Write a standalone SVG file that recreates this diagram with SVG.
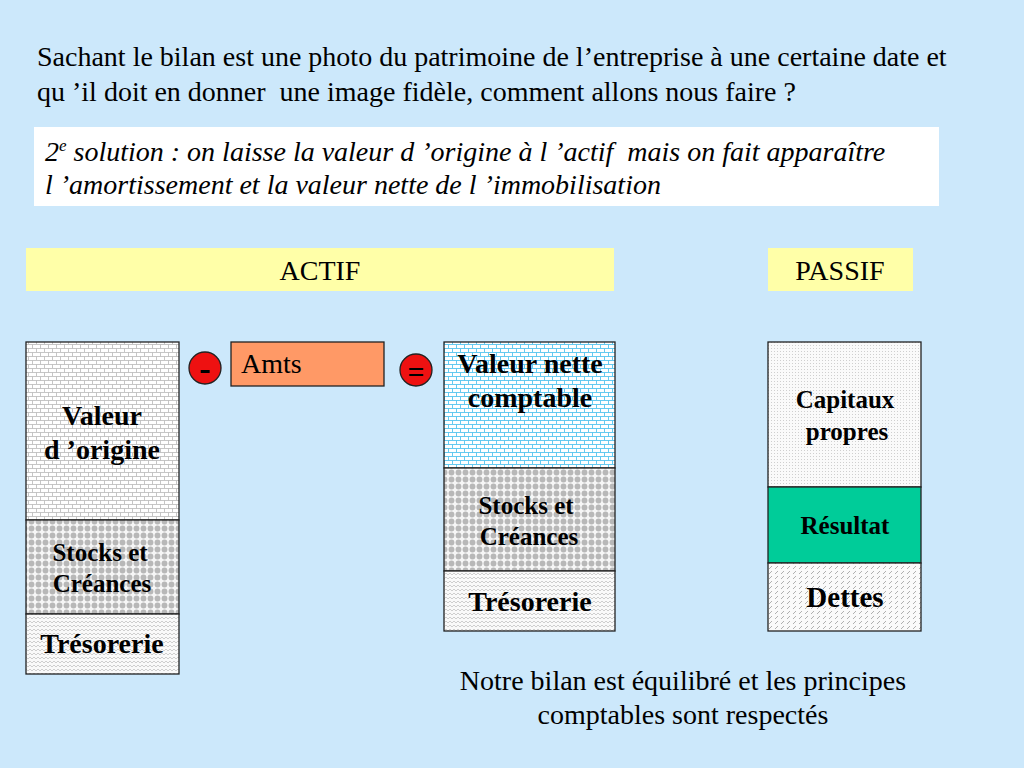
<svg xmlns="http://www.w3.org/2000/svg" width="1024" height="768" viewBox="0 0 1024 768">
<defs>
<pattern id="brick" width="8" height="8" patternUnits="userSpaceOnUse">
<rect width="8" height="8" fill="#fff"/>
<path d="M0 0.5H8M0 4.5H8M0.5 0.5V4.5M4.5 4.5V8.5" stroke="#b8b8b8" stroke-width="0.8" fill="none"/>
</pattern>
<pattern id="brickBlue" width="8" height="8" patternUnits="userSpaceOnUse">
<rect width="8" height="8" fill="#fff"/>
<path d="M0 0.5H8M0 4.5H8M0.5 0.5V4.5M4.5 4.5V8.5" stroke="#55c4ee" stroke-width="0.9" fill="none"/>
</pattern>
<pattern id="dots" width="7" height="7" patternUnits="userSpaceOnUse">
<rect width="7" height="7" fill="#f6f6f6"/>
<circle cx="3.5" cy="3.5" r="2.9" fill="#b8b8b8"/>
</pattern>
<pattern id="zigzag" width="8" height="4" patternUnits="userSpaceOnUse">
<rect width="8" height="4" fill="#fafafa"/>
<path d="M0 3L2 1L4 3L6 1L8 3" stroke="#c4c4c4" stroke-width="0.8" fill="none"/>
</pattern>
<pattern id="fineDots" width="3" height="3" patternUnits="userSpaceOnUse">
<rect width="3" height="3" fill="#fafafa"/>
<rect width="1" height="1" fill="#cfcfcf"/>
</pattern>
<pattern id="slash" width="6" height="5" patternUnits="userSpaceOnUse">
<rect width="6" height="5" fill="#fafafa"/>
<path d="M1 4L4 1" stroke="#a8a8a8" stroke-width="0.9"/>
</pattern>
</defs>
<style>
.t{font-family:"Liberation Serif","Times New Roman",serif;fill:#000}
.n{font-size:28px}
.b{font-weight:bold;text-anchor:middle}
.i{font-style:italic;font-size:28px}
.box{stroke:#222;stroke-width:1.3}
.band{fill:#ffffa8}
.op{fill:#ee1111;stroke:#222;stroke-width:1.3}
</style>
<rect width="1024" height="768" fill="#cce8fb"/>

<g id="title">
<text class="t n" x="37" y="66">Sachant le bilan est une photo du patrimoine de l’entreprise à une certaine date et</text>
<text class="t n" x="37" y="101" xml:space="preserve">qu ’il doit en donner  une image fidèle, comment allons nous faire ?</text>
</g>

<g id="solution">
<rect x="34" y="127" width="905" height="79" fill="#fff"/>
<text class="t i" x="45" y="161" xml:space="preserve">2<tspan font-size="17" dy="-10">e</tspan><tspan dy="10"> solution : on laisse la valeur d ’origine à l ’actif  mais on fait apparaître</tspan></text>
<text class="t i" x="45" y="194">l ’amortissement et la valeur nette de l ’immobilisation</text>
</g>

<g id="actif-header">
<rect class="band" x="26" y="248" width="588" height="43"/>
<text class="t n" x="320" y="280" text-anchor="middle">ACTIF</text>
</g>
<g id="passif-header">
<rect class="band" x="768" y="248" width="145" height="43"/>
<text class="t n" x="840" y="280" text-anchor="middle">PASSIF</text>
</g>

<g id="valeur-origine">
<rect class="box" x="26" y="342" width="153" height="178" fill="url(#brick)"/>
<text class="t b" x="102" y="425" font-size="28">Valeur</text>
<text class="t b" x="102" y="459" font-size="28">d ’origine</text>
</g>
<g id="stocks-1">
<rect class="box" x="26" y="520" width="153" height="94" fill="url(#dots)"/>
<text class="t b" x="100" y="561" font-size="25">Stocks et</text>
<text class="t b" x="102" y="592" font-size="25">Créances</text>
</g>
<g id="tresorerie-1">
<rect class="box" x="26" y="614" width="153" height="60" fill="url(#zigzag)"/>
<text class="t b" x="102" y="653" font-size="28">Trésorerie</text>
</g>

<g id="minus">
<circle class="op" cx="205" cy="368" r="16"/>
<text class="t b" x="205" y="380" font-size="34">-</text>
</g>
<g id="amts">
<rect class="box" x="231" y="342" width="153" height="44" fill="#ff9966"/>
<text class="t n" x="241" y="373">Amts</text>
</g>
<g id="equals">
<circle class="op" cx="416" cy="370" r="16"/>
<text class="t b" x="416" y="382" font-size="30">=</text>
</g>

<g id="vnc">
<rect class="box" x="444" y="342" width="171" height="126" fill="url(#brickBlue)"/>
<text class="t b" x="530" y="373" font-size="28">Valeur nette</text>
<text class="t b" x="530" y="407" font-size="28">comptable</text>
</g>
<g id="stocks-2">
<rect class="box" x="444" y="468" width="171" height="103" fill="url(#dots)"/>
<text class="t b" x="526" y="514" font-size="25">Stocks et</text>
<text class="t b" x="529" y="545" font-size="25">Créances</text>
</g>
<g id="tresorerie-2">
<rect class="box" x="444" y="571" width="171" height="60" fill="url(#zigzag)"/>
<text class="t b" x="530" y="611" font-size="28">Trésorerie</text>
</g>

<g id="capitaux">
<rect class="box" x="768" y="342" width="153" height="145" fill="url(#fineDots)"/>
<text class="t b" x="845" y="408" font-size="25">Capitaux</text>
<text class="t b" x="847" y="440" font-size="25">propres</text>
</g>
<g id="resultat">
<rect class="box" x="768" y="487" width="153" height="76" fill="#00cc99"/>
<text class="t b" x="845" y="534" font-size="25">Résultat</text>
</g>
<g id="dettes">
<rect class="box" x="768" y="563" width="153" height="68" fill="url(#slash)"/>
<text class="t b" x="845" y="607" font-size="29">Dettes</text>
</g>

<g id="conclusion">
<text class="t n" x="683" y="690" text-anchor="middle">Notre bilan est équilibré et les principes</text>
<text class="t n" x="683" y="724" text-anchor="middle">comptables sont respectés</text>
</g>
<g id="connectors"/>
</svg>
